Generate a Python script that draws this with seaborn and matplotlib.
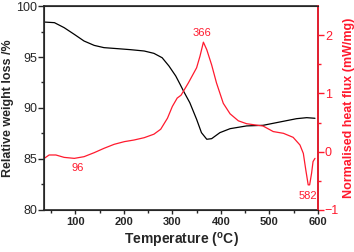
import numpy as np
import pandas as pd
import matplotlib.pyplot as plt
import seaborn as sns

sns.set_style("ticks")
plt.rcParams['font.family'] = ['Liberation Sans', 'DejaVu Sans']

# TGA curve (weight %)
tga_temp = [36, 57, 77, 98, 118, 139, 159, 187, 214, 242, 262, 279, 293, 307, 316,
            324, 336, 350, 360, 371, 381, 398, 419, 453, 487, 522, 556, 577, 594]
tga_wt = [98.43, 98.37, 97.88, 97.22, 96.57, 96.14, 95.92, 95.82, 95.72, 95.59, 95.36,
          94.93, 94.12, 93.14, 92.32, 91.57, 90.52, 88.89, 87.58, 86.93, 86.99, 87.58,
          87.97, 88.24, 88.30, 88.63, 88.95, 89.05, 88.99]

# DSC curve (mW/mg)
dsc_temp = [36, 46, 60, 77, 98, 118, 139, 159, 180, 201, 221, 242, 262, 276, 290, 300,
            310, 318, 333, 350, 357, 364, 371, 381, 391, 405, 419, 436, 453, 487, 508,
            529, 549, 563, 570, 575, 580, 583, 587, 590, 594]
dsc_val = [-0.115, -0.057, -0.057, -0.098, -0.115, -0.086, -0.017, 0.057, 0.126, 0.172,
           0.20, 0.24, 0.30, 0.385, 0.575, 0.776, 0.92, 0.97, 1.18, 1.44, 1.64, 1.88,
           1.75, 1.49, 1.18, 0.83, 0.65, 0.53, 0.48, 0.44, 0.345, 0.315, 0.246, 0.115,
           -0.03, -0.31, -0.57, -0.57, -0.37, -0.17, -0.115]

peak_labels = ["96", "366", "582"]
peak_x = [105, 362, 580]
peak_y = [-0.276, 2.04, -0.764]

tga = pd.DataFrame({'T': tga_temp, 'w': tga_wt})
dsc = pd.DataFrame({'T': dsc_temp, 'h': dsc_val})

red = '#ff1a2e'

fig, ax = plt.subplots(figsize=(3.54, 2.52), dpi=100)
fig.subplots_adjust(left=0.125, right=0.898, top=0.976, bottom=0.167)

sns.lineplot(data=tga, x='T', y='w', ax=ax, color='black', linewidth=0.9)
ax.set_xlim(36, 600)
ax.set_ylim(80, 100)
ax.set_xticks([100, 200, 300, 400, 500, 600])
ax.set_xticks(np.arange(50, 600, 100), minor=True)
ax.set_yticks([80, 85, 90, 95, 100])
ax.set_yticks(np.arange(82.5, 100, 5), minor=True)
ax.set_xlabel("Temperature ($^{\\mathregular{o}}$C)", fontsize=10, fontweight='bold', labelpad=3)
ax.set_ylabel("Relative weight loss /%", fontsize=9, fontweight='bold', labelpad=2)
ax.tick_params(axis='y', labelsize=9, length=4, width=1, pad=1)
ax.tick_params(axis='x', labelsize=8, length=3, width=1, pad=2)
ax.tick_params(which='minor', length=2, width=1)
for lbl in ax.get_xticklabels():
    lbl.set_fontweight('bold')
for s in ax.spines.values():
    s.set_linewidth(1.2)

ax2 = ax.twinx()
sns.lineplot(data=dsc, x='T', y='h', ax=ax2, color=red, linewidth=0.9)
ax2.set_ylim(-1, 2.5)
ax2.set_yticks([-1, 0, 1, 2])
ax2.set_yticks([-0.5, 0.5, 1.5], minor=True)
ax2.set_ylabel("Normalised heat flux (mW/mg)", fontsize=9, fontweight='bold', color=red, labelpad=3)
ax2.tick_params(axis='y', colors=red, labelsize=9, length=4, width=1, pad=1)
ax2.tick_params(which='minor', length=2, width=1, colors=red)
ax2.spines['right'].set_color(red)
ax2.spines['right'].set_linewidth(1.2)
ax2.set_xlabel("")

for t, x, y in zip(peak_labels, peak_x, peak_y):
    ax2.text(x, y, t, color=red, fontsize=8, ha='center', va='center')

fig.savefig("out.png", dpi=100)
